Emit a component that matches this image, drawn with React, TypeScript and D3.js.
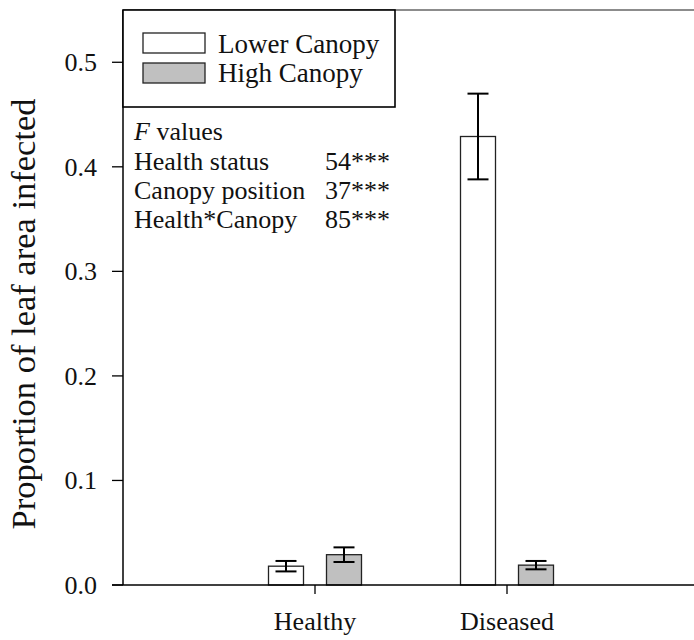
import React from "react";
import * as d3 from "d3";

// Proportion of leaf area infected, by tree health status and canopy position
const categories = ["Healthy", "Diseased"];
const seriesNames = ["Lower Canopy", "High Canopy"];
const lowerCanopy = [0.018, 0.429];
const lowerCanopyErr = [0.005, 0.041];
const highCanopy = [0.029, 0.019];
const highCanopyErr = [0.007, 0.004];
const yTicks = [0, 0.1, 0.2, 0.3, 0.4, 0.5];
const fTitle = "values";
const fTerms = ["Health status", "Canopy position", "Health*Canopy"];
const fValues = ["54***", "37***", "85***"];

const W = 694;
const H = 640;
const FONT = '"Liberation Serif", "Times New Roman", serif';
const fills = ["#ffffff", "#c0c0c0"];

export default function App() {
  const left = 123;
  const bottom = 585;
  const top = 10;

  const y = d3.scaleLinear().domain([0, 0.55]).range([bottom, top]);
  const x = d3.scalePoint<string>().domain(categories).range([left, 699]).padding(1);
  const inner = d3
    .scaleBand<string>()
    .domain(seriesNames)
    .range([-46.5, 46.5])
    .paddingInner(23 / 58)
    .paddingOuter(0);
  const bw = inner.bandwidth();

  const series = [
    { name: seriesNames[0], values: lowerCanopy, errs: lowerCanopyErr, fill: fills[0] },
    { name: seriesNames[1], values: highCanopy, errs: highCanopyErr, fill: fills[1] },
  ];

  const txt = { fontFamily: FONT, fontSize: 26, fill: "#111" } as React.CSSProperties;

  return (
    <svg
      width={W}
      height={H}
      style={{ position: "absolute", left: 0, top: 0, background: "#fff", fontFamily: FONT }}
    >
      {/* frame top */}
      <line x1={left} x2={W} y1={y(0.55)} y2={y(0.55)} stroke="#666" strokeWidth={1.5} />

      {/* bars */}
      {series.map((s) =>
        categories.map((c, i) => {
          const x0 = (x(c) as number) + (inner(s.name) as number);
          const v = s.values[i];
          return (
            <rect
              key={s.name + c}
              x={x0}
              y={y(v)}
              width={bw}
              height={y(0) - y(v)}
              fill={s.fill}
              stroke="#222"
              strokeWidth={1.3}
            />
          );
        })
      )}

      {/* error bars */}
      {series.map((s) =>
        categories.map((c, i) => {
          const cx = (x(c) as number) + (inner(s.name) as number) + bw / 2;
          const v = s.values[i];
          const e = s.errs[i];
          return (
            <g key={"e" + s.name + c} stroke="#000" strokeWidth={2}>
              <line x1={cx} x2={cx} y1={y(v + e)} y2={y(v - e)} />
              <line x1={cx - 10.5} x2={cx + 10.5} y1={y(v + e)} y2={y(v + e)} />
              <line x1={cx - 10.5} x2={cx + 10.5} y1={y(v - e)} y2={y(v - e)} />
            </g>
          );
        })
      )}

      {/* y axis */}
      <line x1={left} x2={left} y1={top} y2={bottom} stroke="#000" strokeWidth={1.5} />
      {yTicks.map((t) => (
        <g key={t}>
          <line x1={left - 11} x2={left} y1={y(t)} y2={y(t)} stroke="#000" strokeWidth={1.3} />
          <text x={97} y={y(t)} dy="0.34em" textAnchor="end" style={txt}>
            {d3.format(".1f")(t)}
          </text>
        </g>
      ))}
      <text
        transform={`translate(35, 314) rotate(-90)`}
        textAnchor="middle"
        style={{ ...txt, fontSize: 34.5 }}
      >
        Proportion of leaf area infected
      </text>

      {/* x axis */}
      <line x1={left - 11} x2={W} y1={bottom} y2={bottom} stroke="#000" strokeWidth={1.5} />
      {categories.map((c) => (
        <g key={c}>
          <line x1={x(c)} x2={x(c)} y1={bottom} y2={bottom + 9} stroke="#000" strokeWidth={1.3} />
          <text x={x(c)} y={630} textAnchor="middle" style={txt}>
            {c}
          </text>
        </g>
      ))}

      {/* legend */}
      <rect x={left} y={top} width={272} height={97} fill="#fff" stroke="#000" strokeWidth={1.6} />
      {series.map((s, i) => (
        <g key={"lg" + s.name}>
          <rect x={143} y={33 + i * 30} width={62} height={20} fill={s.fill} stroke="#222" strokeWidth={1.3} />
          <text x={218} y={53 + i * 29} style={{ ...txt, fontSize: 27 }}>
            {s.name}
          </text>
        </g>
      ))}

      {/* ANOVA F values */}
      <text x={134} y={140} style={txt}>
        <tspan fontStyle="italic">F</tspan>
        <tspan> {fTitle}</tspan>
      </text>
      {fTerms.map((t, i) => (
        <g key={t}>
          <text x={134} y={170 + i * 29} style={txt}>
            {t}
          </text>
          <text x={390} y={170 + i * 29} textAnchor="end" style={txt}>
            {fValues[i]}
          </text>
        </g>
      ))}
    </svg>
  );
}
